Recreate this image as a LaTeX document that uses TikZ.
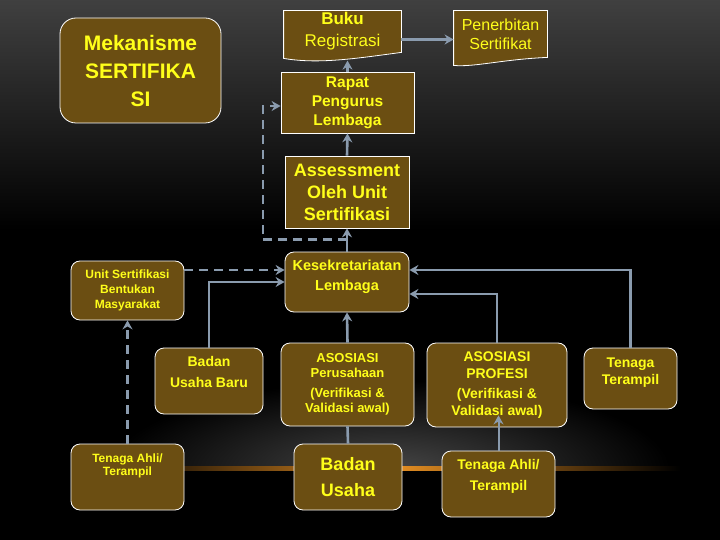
\documentclass[tikz,border=0pt]{standalone}
\usepackage{fontspec}
\setmainfont{Liberation Sans}
\usetikzlibrary{arrows.meta,positioning,backgrounds}

\definecolor{boxfill}{HTML}{6B4E12}
\definecolor{txtyel}{HTML}{FFFF1A}
\definecolor{linkgray}{HTML}{8A9BAE}
\definecolor{horizon}{HTML}{E58E22}
\newcommand{\fsz}[2]{\fontsize{#1}{#2}\selectfont}

\begin{document}
\begin{tikzpicture}[x=1pt,y=-1pt,
  box/.style={draw=white, line width=0.8pt, fill=boxfill, text=txtyel, align=center, inner sep=0pt, font=\bfseries},
  rbox/.style={box, rounded corners=9pt},
  docbox/.style={box, draw=none, fill=none},
  link/.style={draw=linkgray, line width=2.6pt, -{Stealth[length=9pt,width=10pt,inset=3pt]}},
  dlink/.style={link, dash pattern=on 9pt off 6pt},
  plain/.style={draw=linkgray, line width=2.6pt}]
\useasboundingbox (0,0) rectangle (720,540);

% backdrop
\begin{scope}[on background layer]
\fill[black] (0,0) rectangle (720,540);
\shade[top color=gray!50!black, bottom color=black] (0,0) rectangle (720,230);
\begin{scope}
\clip (100,380) rectangle (680,467);
\shade[inner color=gray!55!black, outer color=black] (390,470) ellipse (280 and 90);
\end{scope}
\shade[left color=black, right color=black, middle color=horizon] (110,466) rectangle (680,470);
\end{scope}

% top row
\node[rbox, rounded corners=16pt, minimum width=161pt, minimum height=105pt, font=\bfseries\fsz{21}{28}] (mek) at (140.5,70.5) {Mekanisme\\SERTIFIKA\\SI};
\node[docbox, font=\fsz{17}{22}, minimum width=117pt, minimum height=41pt] (buku) at (342.5,31.5) {\textbf{Buku}\\Registrasi};
\node[docbox, font=\fsz{16}{19}, minimum width=93pt, minimum height=46pt] (pen) at (500.5,34) {Penerbitan\\Sertifikat};
\begin{scope}[on background layer]
\filldraw[draw=white, fill=boxfill, line width=0.8pt] (buku.north west) -- (buku.north east) -- (buku.south east)
  .. controls +(-45,6) and +(35,6) .. ([yshift=-6pt]buku.south west) -- cycle;
\filldraw[draw=white, fill=boxfill, line width=0.8pt] (pen.north west) -- (pen.north east) -- (pen.south east)
  .. controls +(-45,2) and +(20,2) .. ([yshift=-8pt]pen.south west) -- cycle;
\end{scope}

% middle column
\node[box, minimum width=133pt, minimum height=61pt, font=\bfseries\fsz{15.5}{19}] (rapat) at (347.5,102.5) {Rapat\\Pengurus\\Lembaga};
\node[box, minimum width=124pt, minimum height=72pt, font=\bfseries\fsz{18}{22}] (assess) at (347,192) {Assessment\\Oleh Unit\\Sertifikasi};
\node[rbox, minimum width=124pt, minimum height=60pt, font=\bfseries\fsz{14.5}{20}] (kes) at (347,282) {Kesekretariatan\\Lembaga\\[-7pt]\mbox{}};
\node[rbox, minimum width=133pt, minimum height=83pt, font=\bfseries\fsz{13}{15}] (asp) at (347.5,384.5) {ASOSIASI\\Perusahaan\\[5pt](Verifikasi \&\\Validasi awal)};
\node[rbox, minimum width=108pt, minimum height=66pt, font=\bfseries\fsz{18}{26}] (bu) at (348,477) {Badan\\Usaha};

% left column
\node[rbox, minimum width=113pt, minimum height=59pt, font=\bfseries\fsz{12}{15}] (unit) at (127.5,290.5) {Unit Sertifikasi\\Bentukan\\Masyarakat};
\node[rbox, minimum width=108pt, minimum height=66pt, font=\bfseries\fsz{14}{21}] (baru) at (209,381) {Badan\\Usaha Baru\\[-3pt]\mbox{}};
\node[rbox, minimum width=113pt, minimum height=66pt, font=\bfseries\fsz{12}{13}] (tal) at (127.5,477) {Tenaga Ahli/\\Terampil\\[12pt]\mbox{}};

% right column
\node[rbox, minimum width=140pt, minimum height=84pt, font=\bfseries\fsz{14}{17}] (apr) at (497,385) {ASOSIASI\\PROFESI\\[3pt](Verifikasi \&\\Validasi awal)};
\node[rbox, minimum width=93pt, minimum height=61pt, font=\bfseries\fsz{14}{17}] (tt) at (630.5,378.5) {Tenaga\\Terampil\\[-2pt]\mbox{}};
\node[rbox, minimum width=113pt, minimum height=66pt, font=\bfseries\fsz{14}{21}] (tar) at (498.5,484) {Tenaga Ahli/\\Terampil\\[-3pt]\mbox{}};

% connectors
\coordinate (bk) at ([yshift=-8pt]buku.east);
\draw[link] (bk) -- (bk -| pen.west);
\draw[link] (rapat.north) -- ++(0,-11);
\draw[link] (assess.north) -- (rapat.south);
\draw[link] (kes.north) -- (assess.south);
\coordinate (dbend) at (263,106);
\draw[dlink] ([yshift=12pt]kes.north) -| (dbend) -- (dbend -| rapat.west);
\coordinate (kin) at ([yshift=12pt]kes.west);
\draw[dlink] (kin -| unit.east) -- (kin);
\draw[link] (baru.north) |- (kes.west);
\draw[dlink] (tal.north) -- (unit.south);
\draw[link] (asp.north) -- (kes.south);
\draw[plain] (bu.north) -- (asp.south);
\draw[link] (tt.north) |- ([yshift=12pt]kes.east);
\draw[link] (apr.north) |- ([yshift=-12pt]kes.east);
\draw[link, line width=2pt, shorten >=-12pt] (tar.north) -- (tar.north |- apr.south);
\end{tikzpicture}
\end{document}
